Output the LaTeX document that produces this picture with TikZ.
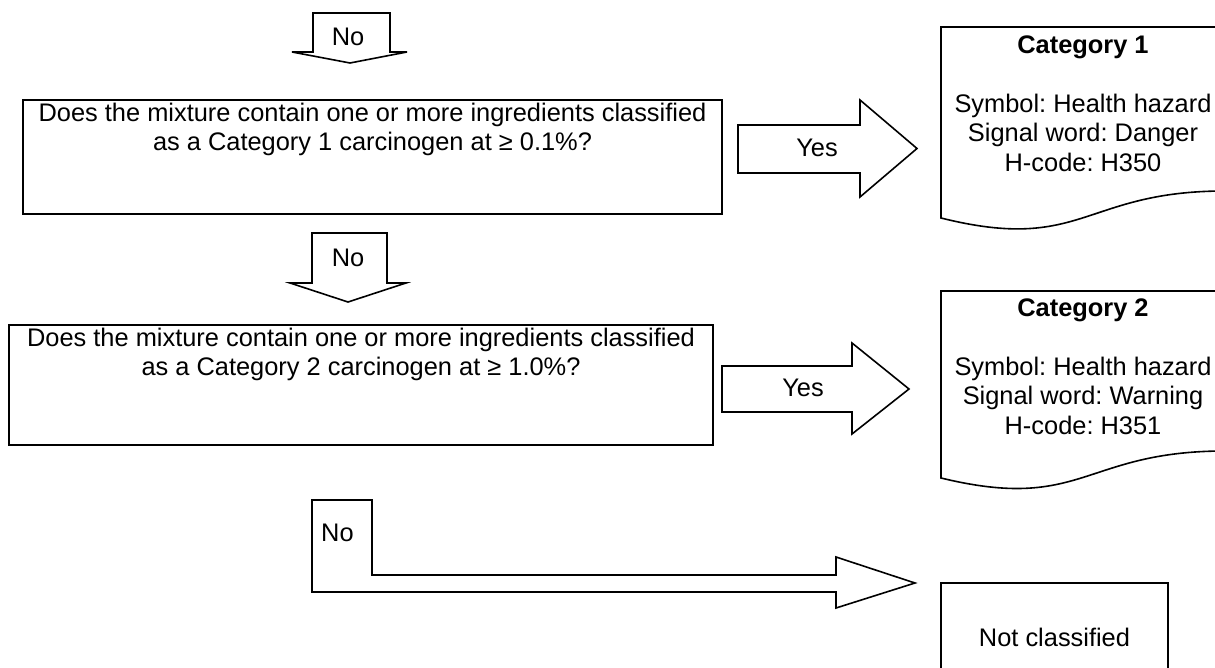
\documentclass[tikz,border=0pt]{standalone}
\usepackage{fontspec}
\setmainfont{Liberation Sans}
\frenchspacing
\usetikzlibrary{positioning}
\begin{document}
\begin{tikzpicture}[x=1pt,y=-1pt,
    every node/.style={font=\fontsize{25.4}{29.5}\selectfont},
    qbox/.style={draw,line width=1.6pt,inner sep=0pt},
    qtext/.style={align=center,inner sep=0pt},
    docbox/.style={draw,line width=1.6pt},
    blockarrow/.style={draw,line width=1.6pt}
]
\clip (0,0) rectangle (1215,668);

% questions
\node[qbox,minimum width=699,minimum height=114] (q1) at (372.5,157) {};
\node[qtext,below=3.5pt of q1.north] (q1t) {Does the mixture contain one or more ingredients classified\\as a Category 1 carcinogen at ≥ 0.1\%?};
\node[qbox,minimum width=704,minimum height=120] (q2) at (361,385) {};
\node[qtext,below=3.5pt of q2.north] (q2t) {Does the mixture contain one or more ingredients classified\\as a Category 2 carcinogen at ≥ 1.0\%?};

% results
\draw[docbox] (941,218) -- (941,27) -- (1225,27) -- (1225,191)
  .. controls (1083,191) and (1083,253.5) .. (941,218) -- cycle;
\node[qtext,anchor=north] (cat1) at (1083,35.5) {\textbf{Category 1}\\[29.5pt]Symbol: Health hazard\\Signal word: Danger\\H-code: H350};
\draw[docbox] (941,478) -- (941,291) -- (1225,291) -- (1225,451)
  .. controls (1083,451) and (1083,512.5) .. (941,478) -- cycle;
\node[qtext,anchor=north] (cat2) at (1083,298.5) {\textbf{Category 2}\\[29.5pt]Symbol: Health hazard\\Signal word: Warning\\H-code: H351};
\node[qbox,minimum width=227,minimum height=108] (notc) at (1054.5,637) {Not classified};

% block arrows
\draw[blockarrow] (313,13) -- (390,13) -- (390,52) -- (407,52) -- (350,63) -- (292,52) -- (313,52) -- cycle;
\node (no1) at (348,37) {No};
\draw[blockarrow] (738,125) -- (860,125) -- (860,100) -- (917,148.5) -- (860,197) -- (860,173) -- (738,173) -- cycle;
\node (yes1) at (817,148) {Yes};
\draw[blockarrow] (312,233) -- (387,233) -- (387,283) -- (406,283) -- (348,302) -- (290,283) -- (312,283) -- cycle;
\node (no2) at (348,258) {No};
\draw[blockarrow] (722,366) -- (852,366) -- (852,343) -- (909,389) -- (852,434) -- (852,412) -- (722,412) -- cycle;
\node (yes2) at (803,388) {Yes};
\draw[blockarrow] (312,500) -- (372,500) -- (372,575) -- (836,575) -- (836,557) -- (915,583)
  -- (836,608) -- (836,592) -- (312,592) -- cycle;
\node[anchor=west,inner sep=0pt] (no3) at (321,533) {No};
\end{tikzpicture}
\end{document}
